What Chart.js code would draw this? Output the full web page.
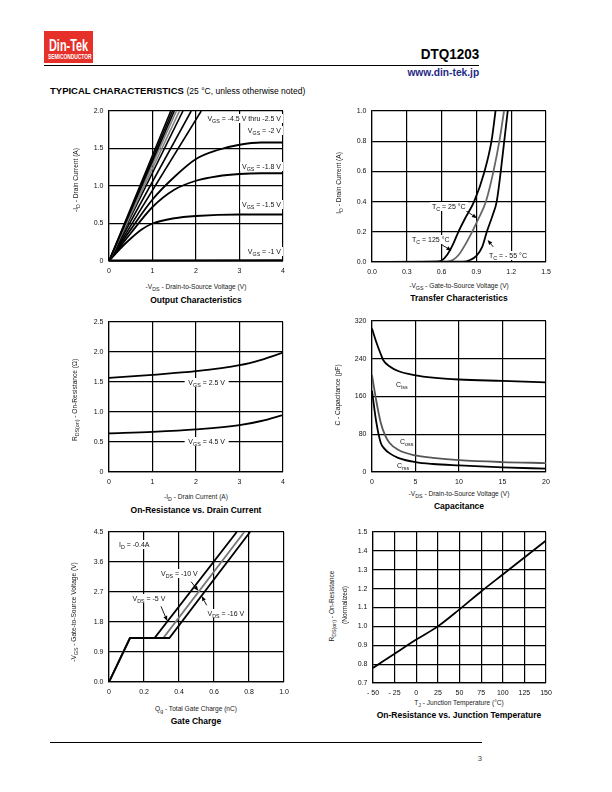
<!DOCTYPE html>
<html>
<head>
<meta charset="utf-8">
<script src="https://cdn.jsdelivr.net/npm/chart.js@4.4.1/dist/chart.umd.min.js"></script>
<style>
body{margin:0;width:612px;height:792px;position:relative;background:#fff;font-family:"Liberation Sans",Arial,sans-serif;color:#000;overflow:hidden}
canvas{position:absolute}
.abs{position:absolute;white-space:nowrap}
.lbl{position:absolute;white-space:nowrap;font-size:7px;line-height:9px;color:#111}
.bg{background:#fff;padding:0 2px}
sub{font-size:5.3px;vertical-align:-1.5px;line-height:0}
.xt{position:absolute;white-space:nowrap;font-size:6.6px;line-height:8px;color:#222;transform:translateX(-50%)}
.cap{position:absolute;white-space:nowrap;font-size:8.5px;line-height:10px;font-weight:bold;transform:translateX(-50%)}
.yt{position:absolute;white-space:nowrap;font-size:6.6px;line-height:8px;color:#222;transform:translate(-50%,-50%) rotate(-90deg)}
</style>
</head>
<body>
<!-- header -->
<div class="abs" style="left:44px;top:31px;width:49px;height:32px;background:#e5312a;overflow:hidden">
  <div class="abs" style="left:5px;top:5.5px;font-size:16.5px;line-height:17px;font-weight:bold;color:#fff;transform:scaleX(0.66);transform-origin:left">Din-Tek</div>
  <div class="abs" style="left:3.5px;top:21.5px;font-size:8px;line-height:8px;font-weight:bold;color:#fff;transform:scaleX(0.61);transform-origin:left">SEMICONDUCTOR</div>
</div>
<div class="abs" style="right:133px;top:46px;font-size:15.5px;line-height:16px;font-weight:bold;transform:scaleX(0.87);transform-origin:right">DTQ1203</div>
<div class="abs" style="left:44px;top:64.5px;width:435px;height:1.5px;background:#000"></div>
<div class="abs" style="right:133px;top:66px;font-size:11px;line-height:12px;font-weight:bold;color:#1f2a86;transform:scaleX(0.93);transform-origin:right">www.din-tek.jp</div>
<div class="abs" style="left:50px;top:85px;font-size:9.5px;line-height:11px"><b>TYPICAL CHARACTERISTICS</b> <span style="font-size:8.5px">(25 °C, unless otherwise noted)</span></div>

<canvas id="cOut"></canvas>
<canvas id="cTr"></canvas>
<canvas id="cRd"></canvas>
<canvas id="cCap"></canvas>
<canvas id="cQg"></canvas>
<canvas id="cTj"></canvas>

<!-- output characteristics -->
<div class="yt" style="left:76px;top:180px">-I<sub>D</sub> - Drain Current (A)</div>
<div class="xt" style="left:196px;top:283px">-V<sub>DS</sub> - Drain-to-Source Voltage (V)</div>
<div class="cap" style="left:196px;top:295px">Output Characteristics</div>
<div class="lbl bg" style="right:329px;top:114px">V<sub>GS</sub> = -4.5 V thru -2.5 V</div>
<div class="lbl bg" style="right:329px;top:125.5px">V<sub>GS</sub> = -2 V</div>
<div class="lbl bg" style="right:329px;top:162px">V<sub>GS</sub> = -1.8 V</div>
<div class="lbl bg" style="right:329px;top:199.5px">V<sub>GS</sub> = -1.5 V</div>
<div class="lbl bg" style="right:329px;top:246.5px">V<sub>GS</sub> = -1 V</div>

<!-- transfer characteristics -->
<div class="yt" style="left:338.5px;top:183px">I<sub>D</sub> - Drain Current (A)</div>
<div class="xt" style="left:459px;top:282px">-V<sub>GS</sub> - Gate-to-Source Voltage (V)</div>
<div class="cap" style="left:459px;top:293px">Transfer Characteristics</div>
<div class="lbl bg" style="left:430px;top:201.5px">T<sub>C</sub> = 25 °C</div>
<div class="lbl bg" style="left:410px;top:234.5px">T<sub>C</sub> = 125 °C</div>
<div class="lbl bg" style="left:487px;top:250.5px">T<sub>C</sub> = - 55 °C</div>

<!-- on-resistance vs drain current -->
<div class="yt" style="left:75px;top:400px">R<sub>DS(on)</sub> - On-Resistance (Ω)</div>
<div class="xt" style="left:196px;top:493px">-I<sub>D</sub> - Drain Current (A)</div>
<div class="cap" style="left:196px;top:504.5px">On-Resistance vs. Drain Current</div>
<div class="lbl bg" style="left:206.7px;top:378px;transform:translateX(-50%);padding:0 4px">V<sub>GS</sub> = 2.5 V</div>
<div class="lbl bg" style="left:206.7px;top:436.5px;transform:translateX(-50%);padding:0 4px">V<sub>GS</sub> = 4.5 V</div>

<!-- capacitance -->
<div class="yt" style="left:338px;top:395px">C - Capacitance (pF)</div>
<div class="xt" style="left:459px;top:489.5px">-V<sub>DS</sub> - Drain-to-Source Voltage (V)</div>
<div class="cap" style="left:459px;top:501px">Capacitance</div>
<div class="lbl" style="left:396px;top:379.5px">C<sub>iss</sub></div>
<div class="lbl" style="left:400px;top:436.5px">C<sub>oss</sub></div>
<div class="lbl" style="left:397px;top:460.5px">C<sub>rss</sub></div>

<!-- gate charge -->
<div class="yt" style="left:74px;top:612px">-V<sub>GS</sub> - Gate-to-Source Voltage (V)</div>
<div class="xt" style="left:196px;top:704.5px">Q<sub>g</sub> - Total Gate Charge (nC)</div>
<div class="cap" style="left:196px;top:716px">Gate Charge</div>
<div class="lbl bg" style="left:117px;top:540px">I<sub>D</sub> = -0.4A</div>
<div class="lbl bg" style="left:159px;top:568.5px">V<sub>DS</sub> = -10 V</div>
<div class="lbl bg" style="left:130.5px;top:593.5px">V<sub>DS</sub> = -5 V</div>
<div class="lbl bg" style="left:205.5px;top:608.5px">V<sub>DS</sub> = -16 V</div>

<!-- on-resistance vs junction temperature -->
<div class="yt" style="left:331.5px;top:606px">R<sub>DS(on)</sub> - On-Resistance</div>
<div class="yt" style="left:345px;top:605px">(Normalized)</div>
<div class="xt" style="left:459px;top:698.5px">T<sub>J</sub> - Junction Temperature (°C)</div>
<div class="cap" style="left:459px;top:709.5px">On-Resistance vs. Junction Temperature</div>

<!-- footer -->
<div class="abs" style="left:50px;top:741.5px;width:432px;height:1.3px;background:#000"></div>
<div class="abs" style="right:130px;top:754px;font-size:7.5px;line-height:9px;color:#444">3</div>

<script>
const FONT = '"Liberation Sans", Arial, sans-serif';

// Output characteristics: -VDS (V) vs -ID (A)
const outXTicks = [0, 1, 2, 3, 4];
const outXLabels = ['0', '1', '2', '3', '4'];
const outYTicks = [0, 0.5, 1, 1.5, 2];
const outYLabels = ['0', '0.5', '1.0', '1.5', '2.0'];
const outBundleTop = [1.42, 1.46, 1.50, 1.55, 1.62, 1.70, 1.89, 2.12]; // VDS where ID reaches 2 A, VGS -4.5 .. -2.5
const outVgs2 = [[0, 0], [0.5, 0.42], [1, 0.82], [1.5, 1.12], [2, 1.36], [2.5, 1.48], [3, 1.55], [3.5, 1.58], [4, 1.58]];
const outVgs18 = [[0, 0], [0.5, 0.37], [1, 0.72], [1.5, 0.95], [2, 1.07], [2.5, 1.13], [3, 1.16], [3.5, 1.17], [4, 1.17]];
const outVgs15 = [[0, 0], [0.25, 0.16], [0.5, 0.3], [0.75, 0.42], [1, 0.5], [1.5, 0.57], [2, 0.6], [3, 0.62], [4, 0.62]];
const outVgs1 = [[0, 0.004], [4, 0.008]];

// Transfer characteristics: -VGS (V) vs ID (A)
const trXTicks = [0, 0.3, 0.6, 0.9, 1.2, 1.5];
const trXLabels = ['0.0', '0.3', '0.6', '0.9', '1.2', '1.5'];
const trYTicks = [0, 0.2, 0.4, 0.6, 0.8, 1];
const trYLabels = ['0.0', '0.2', '0.4', '0.6', '0.8', '1.0'];
const tr125 = [[0.08, 0], [0.55, 0.002], [0.6, 0.01], [0.65, 0.05], [0.7, 0.12], [0.745, 0.2], [0.8, 0.285], [0.88, 0.4], [0.97, 0.6], [1.03, 0.8], [1.065, 1.0]];
const tr25 = [[0.08, 0], [0.65, 0.002], [0.7, 0.015], [0.75, 0.05], [0.8, 0.11], [0.863, 0.2], [0.92, 0.29], [0.982, 0.4], [1.047, 0.6], [1.098, 0.8], [1.138, 1.0]];
const trM55 = [[0.08, 0], [0.78, 0.002], [0.85, 0.015], [0.9, 0.04], [0.95, 0.1], [0.99, 0.2], [1.04, 0.31], [1.075, 0.4], [1.11, 0.6], [1.14, 0.8], [1.17, 1.0]];
const trArrows = [[[0.8, 0.345], [0.905, 0.29]], [[0.604, 0.113], [0.685, 0.075]], [[1.045, 0.1], [0.997, 0.146]]];

// On-resistance vs drain current: -ID (A) vs RDS(on) (ohm)
const rdXTicks = [0, 1, 2, 3, 4];
const rdXLabels = ['0', '1', '2', '3', '4'];
const rdYTicks = [0, 0.5, 1, 1.5, 2, 2.5];
const rdYLabels = ['0', '0.5', '1.0', '1.5', '2.0', '2.5'];
const rdVgs25 = [[0, 1.57], [1, 1.62], [2, 1.68], [3, 1.78], [3.5, 1.87], [4, 1.99]];
const rdVgs45 = [[0, 0.645], [1, 0.67], [2, 0.71], [3, 0.78], [3.5, 0.85], [4, 0.95]];

// Capacitance: -VDS (V) vs C (pF)
const capXTicks = [0, 5, 10, 15, 20];
const capXLabels = ['0', '5', '10', '15', '20'];
const capYTicks = [0, 80, 160, 240, 320];
const capYLabels = ['0', '80', '160', '240', '320'];
const capCiss = [[0, 304], [0.5, 275], [1, 250], [1.3, 237], [2, 224], [3, 214], [5, 205], [7, 200], [10, 196], [15, 193], [20, 190]];
const capCoss = [[0, 205], [0.5, 150], [1, 105], [1.5, 78], [2, 62], [3, 47], [5, 35], [7, 30], [10, 25], [15, 21], [20, 19]];
const capCrss = [[0, 172], [0.5, 105], [1, 62], [1.5, 48], [2, 40], [3, 30], [5, 21], [7, 17], [10, 14], [15, 10], [20, 7]];

// Gate charge: Qg (nC) vs -VGS (V)
const qgXTicks = [0, 0.2, 0.4, 0.6, 0.8, 1];
const qgXLabels = ['0', '0.2', '0.4', '0.6', '0.8', '1.0'];
const qgYTicks = [0, 0.9, 1.8, 2.7, 3.6, 4.5];
const qgYLabels = ['0.0', '0.9', '1.8', '2.7', '3.6', '4.5'];
const qgVds5 = [[0, 0], [0.12, 1.32], [0.26, 1.32], [0.73, 4.5]];
const qgVds10 = [[0, 0], [0.12, 1.32], [0.31, 1.32], [0.773, 4.5]];
const qgVds16 = [[0, 0], [0.12, 1.32], [0.345, 1.32], [0.806, 4.5]];
const qgArrows = [[[0.469, 3.01], [0.511, 2.73]], [[0.297, 2.27], [0.333, 1.83]], [[0.558, 2.3], [0.53, 2.58]]];

// On-resistance vs junction temperature: TJ (C) vs RDS(on) normalized
const tjXTicks = [-50, -25, 0, 25, 50, 75, 100, 125, 150];
const tjXLabels = ['- 50', '- 25', '0', '25', '50', '75', '100', '125', '150'];
const tjYTicks = [0.7, 0.8, 0.9, 1.0, 1.1, 1.2, 1.3, 1.4, 1.5];
const tjYLabels = ['0.7', '0.8', '0.9', '1.0', '1.1', '1.2', '1.3', '1.4', '1.5'];
const tjRds = [[-50, 0.78], [-25, 0.855], [0, 0.93], [25, 1.0], [50, 1.09], [75, 1.185], [100, 1.275], [125, 1.365], [150, 1.455]];

const pts = arr => arr.map(p => ({ x: p[0], y: p[1] }));

function line(data, color, width, smooth) {
    return {
        data: pts(data),
        borderColor: color,
        borderWidth: width || 1.8,
        pointRadius: 0,
        fill: false,
        tension: 0,
        cubicInterpolationMode: smooth ? 'monotone' : 'default'
    };
}

function axis(ticks, labels, pos) {
    return {
        type: 'linear',
        position: pos,
        min: ticks[0],
        max: ticks[ticks.length - 1],
        afterBuildTicks: s => { s.ticks = ticks.map(v => ({ value: v })); },
        ticks: {
            callback: (v, i) => labels[i],
            font: { family: FONT, size: 7 },
            color: '#111',
            padding: 5.5,
            autoSkip: false,
            maxRotation: 0
        },
        grid: { color: '#000', lineWidth: 1.2, drawTicks: false },
        border: { color: '#000', width: 1.2 },
        afterFit: pos === 'left'
            ? s => { s.width = 30; s.paddingTop = 0; s.paddingBottom = 0; }
            : s => { s.height = 16; s.paddingLeft = 0; s.paddingRight = 0; }
    };
}

// small arrows pointing at curves, placed in data units
const arrowPlugin = {
    id: 'arrows',
    afterDatasetsDraw(chart, args, opts) {
        const ctx = chart.ctx, xs = chart.scales.x, ys = chart.scales.y;
        (opts.items || []).forEach(a => {
            const x1 = xs.getPixelForValue(a[0][0]), y1 = ys.getPixelForValue(a[0][1]);
            const x2 = xs.getPixelForValue(a[1][0]), y2 = ys.getPixelForValue(a[1][1]);
            const ang = Math.atan2(y2 - y1, x2 - x1), L = 5, W = 2;
            ctx.save();
            ctx.strokeStyle = '#000';
            ctx.fillStyle = '#000';
            ctx.lineWidth = 0.9;
            ctx.beginPath();
            ctx.moveTo(x1, y1);
            ctx.lineTo(x2 - L * Math.cos(ang), y2 - L * Math.sin(ang));
            ctx.stroke();
            ctx.beginPath();
            ctx.moveTo(x2, y2);
            ctx.lineTo(x2 - L * Math.cos(ang) + W * Math.sin(ang), y2 - L * Math.sin(ang) - W * Math.cos(ang));
            ctx.lineTo(x2 - L * Math.cos(ang) - W * Math.sin(ang), y2 - L * Math.sin(ang) + W * Math.cos(ang));
            ctx.closePath();
            ctx.fill();
            ctx.restore();
        });
    }
};

function plot(id, box, xA, yA, datasets, arrows) {
    const c = document.getElementById(id);
    const W = box.w + 38, H = box.h + 22;
    c.width = W;
    c.height = H;
    c.style.left = (box.l - 30) + 'px';
    c.style.top = (box.t - 6) + 'px';
    c.style.width = W + 'px';
    c.style.height = H + 'px';
    return new Chart(c, {
        type: 'line',
        data: { datasets },
        options: {
            responsive: false,
            animation: false,
            layout: { padding: { left: 0, right: 8, top: 6, bottom: 0 } },
            plugins: {
                legend: { display: false },
                tooltip: { enabled: false },
                arrows: { items: (arrows || []).map(a => a) }
            },
            scales: { x: xA, y: yA }
        },
        plugins: [arrowPlugin]
    });
}

const GRAY = '#808080';

plot('cOut', { l: 109, t: 111, w: 174, h: 150 },
    axis(outXTicks, outXLabels, 'bottom'), axis(outYTicks, outYLabels, 'left'),
    outBundleTop.map((t, i) => line([[0, 0], [t, 2]], (i === 3 || i === 4) ? GRAY : '#000', 1.6))
        .concat([
            line(outVgs2, '#000', 1.8, true),
            line(outVgs18, '#000', 1.8, true),
            line(outVgs15, '#000', 1.8, true),
            Object.assign(line(outVgs1, '#000', 2.2), { clip: false })
        ]));

plot('cTr', { l: 372, t: 111, w: 174, h: 151 },
    axis(trXTicks, trXLabels, 'bottom'), axis(trYTicks, trYLabels, 'left'),
    [line(trM55, '#000', 1.8, true), line(tr25, '#666', 1.8, true), line(tr125, '#000', 1.8, true)],
    trArrows);

plot('cRd', { l: 109, t: 322, w: 174, h: 150 },
    axis(rdXTicks, rdXLabels, 'bottom'), axis(rdYTicks, rdYLabels, 'left'),
    [line(rdVgs25, '#000', 1.8, true), line(rdVgs45, '#000', 1.8, true)]);

plot('cCap', { l: 372, t: 321, w: 174, h: 151 },
    axis(capXTicks, capXLabels, 'bottom'), axis(capYTicks, capYLabels, 'left'),
    [line(capCiss, '#000', 1.8, true), line(capCrss, '#000', 1.8, true), line(capCoss, '#555', 1.8, true)]);

plot('cQg', { l: 109, t: 532, w: 175, h: 150 },
    axis(qgXTicks, qgXLabels, 'bottom'), axis(qgYTicks, qgYLabels, 'left'),
    [line(qgVds16, '#000', 1.8), line(qgVds10, '#777', 1.8), line(qgVds5, '#000', 1.8)],
    qgArrows);

plot('cTj', { l: 373, t: 532, w: 173, h: 151 },
    axis(tjXTicks, tjXLabels, 'bottom'), axis(tjYTicks, tjYLabels, 'left'),
    [line(tjRds, '#000', 1.8, true)]);
</script>
</body>
</html>
